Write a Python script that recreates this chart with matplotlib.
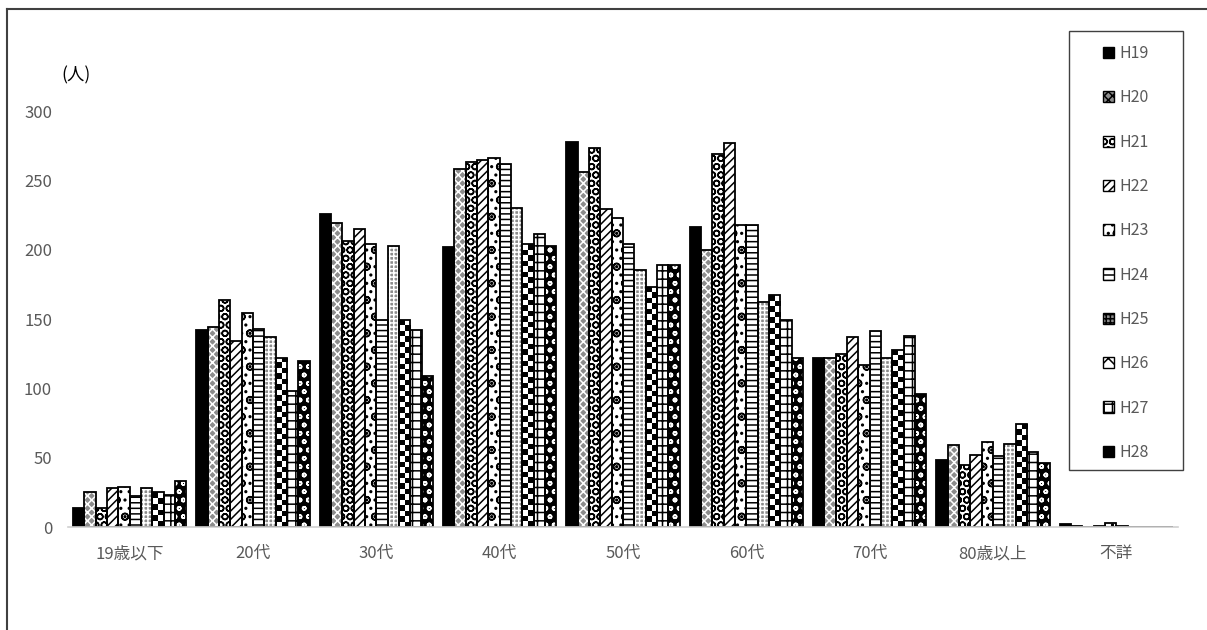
import numpy as np
import matplotlib
matplotlib.use('Agg')
import matplotlib.pyplot as plt
from matplotlib.patches import Patch, Rectangle
from matplotlib.lines import Line2D

plt.rcParams['font.family'] = ['Noto Sans CJK JP', 'DejaVu Sans']
plt.rcParams['hatch.linewidth'] = 1.1

#-----Data: number of people by age group, H19 to H28
ages = ['19歳以下', '20代', '30代', '40代', '50代', '60代', '70代', '80歳以上', '不詳']
years = ['H19', 'H20', 'H21', 'H22', 'H23', 'H24', 'H25', 'H26', 'H27', 'H28']

h19 = [14, 142, 226, 202, 278, 216, 122, 48, 2]
h20 = [25, 144, 219, 258, 256, 200, 122, 59, 1]
h21 = [14, 164, 206, 263, 273, 269, 125, 45, 0]
h22 = [28, 134, 215, 265, 229, 277, 137, 52, 1]
h23 = [29, 154, 204, 266, 223, 218, 117, 61, 3]
h24 = [22, 143, 149, 262, 204, 218, 141, 51, 1]
h25 = [28, 137, 203, 230, 185, 162, 122, 60, 0]
h26 = [25, 122, 149, 204, 173, 167, 128, 74, 0]
h27 = [23, 98, 142, 211, 189, 149, 138, 54, 0]
h28 = [33, 120, 109, 203, 189, 122, 96, 46, 0]
values = [h19, h20, h21, h22, h23, h24, h25, h26, h27, h28]

#-----Fill style per year: (face colour, hatch, hatch colour)
# 'checker' is drawn as a clipped image texture
styles = [
    ('black', '', 'black'),
    ('#8c8c8c', 'xxxx', 'white'),
    ('white', 'OO', 'black'),
    ('white', '////', 'black'),
    ('white', 'o..', 'black'),
    ('white', '---', 'black'),
    ('#8c8c8c', '++++', 'white'),
    ('checker', '', 'black'),
    ('white', '++', 'black'),
    ('black', 'oo', 'white'),
]

fig = plt.figure(figsize=(12.07, 6.3), dpi=100)
ax = fig.add_axes([68 / 1207, 1 - 527 / 630, (1178 - 68) / 1207, (527 - 111) / 630])

x = np.arange(len(ages))
w = 0.092
px_per_unit = (527 - 111) / 300
for i, vals in enumerate(values):
    fc, hatch, hc = styles[i]
    pos = x + (i - 4.5) * w
    if fc == 'checker':
        bars = ax.bar(pos, vals, w, color='white', linewidth=0)
        for b, v in zip(bars, vals):
            if v <= 0:
                continue
            rows = max(1, int(round(v * px_per_unit / 5.5)))
            board = (np.add.outer(np.arange(rows), np.arange(2)) % 2).astype(float)
            im = ax.imshow(board, cmap='gray_r', vmin=0, vmax=1, aspect='auto', interpolation='nearest',
                           extent=(b.get_x(), b.get_x() + w, 0, v), origin='lower', zorder=1.5)
            im.set_clip_path(b)
    else:
        ax.bar(pos, vals, w, color=fc, hatch=hatch, edgecolor=hc, linewidth=0)
    # black outline on top
    ax.bar(pos, vals, w, fill=False, edgecolor='black', linewidth=1.3, zorder=2)

ax.set_xlim(-0.5, len(ages) - 0.5)
ax.set_ylim(0, 300)
ax.set_yticks(range(0, 301, 50))
ax.set_xticks(x)
ax.set_xticklabels(ages)
for s in ['top', 'right', 'left']:
    ax.spines[s].set_visible(False)
ax.spines['bottom'].set_color('#d0d0d0')
ax.spines['bottom'].set_linewidth(1.2)
ax.tick_params(axis='both', length=0, colors='#595959', labelsize=12)
ax.tick_params(axis='y', pad=11.5)
ax.tick_params(axis='x', pad=13)

fig.text(76 / 1207, 1 - 75 / 630, '(人)', fontsize=12.5, color='black', va='center', ha='center')

#-----Legend in its own box
bx0, by0, bx1, by1 = 1069, 31, 1183, 470
fig.patches.append(Rectangle((bx0 / 1207, 1 - by1 / 630), (bx1 - bx0) / 1207, (by1 - by0) / 630,
                             transform=fig.transFigure, fill=False, edgecolor='#404040', linewidth=1.0))
handles = []
for i, name in enumerate(years):
    fc, hatch, hc = styles[i]
    if fc == 'checker':
        handles.append(Patch(facecolor='white', hatch='xx', edgecolor='black', label=name))
    else:
        handles.append(Patch(facecolor=fc, hatch=hatch, edgecolor='black', label=name))
leg = fig.legend(handles=handles, loc='center', bbox_to_anchor=((bx0 + bx1) / 2 / 1207, 1 - 253 / 630),
                 frameon=False, fontsize=11.5, handlelength=0.7, handleheight=0.7,
                 handletextpad=0.3, labelspacing=1.71)
for t in leg.get_texts():
    t.set_color('#595959')

#-----Outer border on the left and top
fig.add_artist(Line2D([7 / 1207, 7 / 1207], [0, 1 - 9 / 630], transform=fig.transFigure, color='#404040', linewidth=1.5))
fig.add_artist(Line2D([7 / 1207, 1], [1 - 9 / 630, 1 - 9 / 630], transform=fig.transFigure, color='#404040', linewidth=1.5))

fig.savefig('out.png', dpi=100)
